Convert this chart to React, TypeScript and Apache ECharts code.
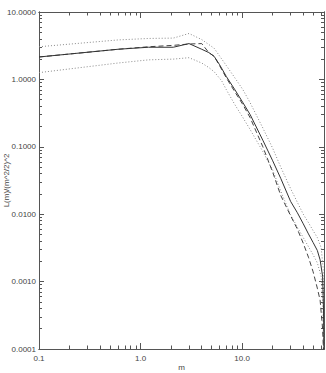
import React, { useEffect, useRef } from "react";
import * as echarts from "echarts";

// m values and curves
const solidM = [0.1, 0.6, 1.2, 2.1, 3.0, 4.0, 4.7, 5.3, 6.0, 7.0, 8.5, 10.2, 12.0, 16.0, 20.0, 24.0, 30.0, 35.0, 40.0, 45.0, 50.0, 55.0, 58.6, 62.0, 63.3, 64.0];
const solidV = [2.15, 2.8, 3.0, 3.0, 3.4, 2.8, 2.5, 2.2, 1.65, 1.1, 0.7, 0.45, 0.3, 0.125, 0.062, 0.034, 0.0155, 0.0105, 0.0072, 0.0051, 0.0038, 0.0029, 0.0021, 0.0012, 0.0004, 0.00008];

const dashedM = [0.1, 0.6, 1.2, 2.1, 3.0, 4.0, 4.7, 5.3, 6.0, 7.0, 8.5, 10.2, 12.0, 16.0, 20.0, 24.0, 30.0, 35.0, 40.0, 45.0, 50.0, 55.0, 58.6, 62.0, 63.5];
const dashedV = [2.15, 2.8, 3.05, 3.2, 3.35, 3.4, 2.5, 2.2, 1.6, 1.05, 0.65, 0.42, 0.27, 0.1, 0.042, 0.019, 0.0095, 0.006, 0.0037, 0.0023, 0.0014, 0.0008, 0.00053, 0.0002, 0.00008];

const upperM = [0.1, 0.6, 1.2, 2.1, 3.0, 4.0, 5.3, 7.0, 8.5, 10.2, 12.0, 16.0, 20.0, 24.0, 30.0, 35.0, 40.0, 45.0, 50.0, 55.0, 60.0, 63.0, 64.0];
const upperV = [3.05, 3.85, 4.05, 4.1, 4.8, 3.9, 2.9, 1.6, 1.05, 0.7, 0.45, 0.19, 0.095, 0.05, 0.024, 0.015, 0.01, 0.0075, 0.0057, 0.0045, 0.0032, 0.0015, 0.00008];

const lowerM = [0.1, 0.6, 1.2, 2.1, 3.0, 4.0, 4.7, 5.3, 6.3, 7.0, 8.5, 10.2, 12.0, 16.0, 20.0, 24.0, 30.0, 35.0, 40.0, 45.0, 50.0, 55.0, 60.0, 62.5, 63.5];
const lowerV = [1.26, 1.75, 1.95, 2.0, 2.1, 1.75, 1.5, 1.3, 0.95, 0.7, 0.42, 0.27, 0.18, 0.085, 0.045, 0.022, 0.0098, 0.0064, 0.0045, 0.0033, 0.0025, 0.0019, 0.0012, 0.0004, 0.00008];

const xMajor = [0.1, 1, 10];
const xMinor = [0.2, 0.3, 0.4, 0.5, 0.6, 0.7, 0.8, 0.9, 2, 3, 4, 5, 6, 7, 8, 9, 20, 30, 40, 50, 60];
const yMajor = [0.0001, 0.001, 0.01, 0.1, 1, 10];
const yMinor = [0.0002, 0.0003, 0.0004, 0.0005, 0.0006, 0.0007, 0.0008, 0.0009, 0.002, 0.003, 0.004, 0.005, 0.006, 0.007, 0.008, 0.009, 0.02, 0.03, 0.04, 0.05, 0.06, 0.07, 0.08, 0.09, 0.2, 0.3, 0.4, 0.5, 0.6, 0.7, 0.8, 0.9, 2, 3, 4, 5, 6, 7, 8, 9];

const X_MIN = 0.1;
const X_MAX = 64;
const Y_MIN = 0.0001;
const Y_MAX = 10;

const AXIS_COLOR = "#555";
const TEXT_COLOR = "#444";
const FONT = "Liberation Sans";

function pairs(xs: number[], ys: number[]) {
  return xs.map((x, i) => [x, ys[i]]);
}

function xAx(grid: number, pos: string, vals: number[], len: number, labels: boolean) {
  return {
    type: "log",
    logBase: 10,
    gridIndex: grid,
    position: pos,
    min: X_MIN,
    max: X_MAX,
    name: labels ? "m" : "",
    nameLocation: "middle",
    nameGap: 14,
    nameMoveOverlap: false,
    nameTextStyle: { color: TEXT_COLOR, fontFamily: FONT, fontSize: 8 },
    axisLine: { show: true, lineStyle: { color: AXIS_COLOR, width: 1 } },
    axisTick: { show: true, inside: true, length: len, customValues: vals, lineStyle: { color: AXIS_COLOR } },
    axisLabel: {
      show: labels,
      customValues: xMajor,
      margin: 5,
      color: TEXT_COLOR,
      fontFamily: FONT,
      fontSize: 8,
      formatter: (v: number) => v.toFixed(1),
    },
    splitLine: { show: false },
    minorTick: { show: false },
  };
}

function yAx(grid: number, pos: string, vals: number[], len: number, labels: boolean) {
  return {
    type: "log",
    logBase: 10,
    gridIndex: grid,
    position: pos,
    min: Y_MIN,
    max: Y_MAX,
    name: labels ? "L(m)/(m^2/2)^2" : "",
    nameLocation: "middle",
    nameGap: 29,
    nameMoveOverlap: false,
    nameTextStyle: { color: TEXT_COLOR, fontFamily: FONT, fontSize: 8 },
    axisLine: { show: true, lineStyle: { color: AXIS_COLOR, width: 1 } },
    axisTick: { show: true, inside: true, length: len, customValues: vals, lineStyle: { color: AXIS_COLOR } },
    axisLabel: {
      show: labels,
      customValues: yMajor,
      margin: 3,
      color: TEXT_COLOR,
      fontFamily: FONT,
      fontSize: 8,
      formatter: (v: number) => v.toFixed(4),
    },
    splitLine: { show: false },
    minorTick: { show: false },
  };
}

export default function App() {
  const ref = useRef<HTMLDivElement>(null);
  useEffect(() => {
    if (!ref.current) return;
    const chart = echarts.init(ref.current, null, { renderer: "svg" });
    const gridRect = { left: 39, top: 12, right: 2, bottom: 24, containLabel: false, outerBoundsMode: "none" };
    chart.setOption({
      animation: false,
      backgroundColor: "#fff",
      grid: [gridRect, gridRect],
      xAxis: [
        xAx(0, "bottom", xMajor, 6, true),
        xAx(0, "top", xMajor, 6, false),
        xAx(1, "bottom", xMinor, 3.5, false),
        xAx(1, "top", xMinor, 3.5, false),
      ],
      yAxis: [
        yAx(0, "left", yMajor, 5, true),
        yAx(0, "right", yMajor, 5, false),
        yAx(1, "left", yMinor, 3, false),
        yAx(1, "right", yMinor, 3, false),
      ],
      series: [
        {
          type: "line",
          xAxisIndex: 0,
          yAxisIndex: 0,
          data: pairs(upperM, upperV),
          symbol: "none",
          lineStyle: { color: "#888", width: 1, type: [1, 2] },
        },
        {
          type: "line",
          xAxisIndex: 0,
          yAxisIndex: 0,
          data: pairs(lowerM, lowerV),
          symbol: "none",
          lineStyle: { color: "#888", width: 1, type: [1, 2] },
        },
        {
          type: "line",
          xAxisIndex: 0,
          yAxisIndex: 0,
          data: pairs(dashedM, dashedV),
          symbol: "none",
          lineStyle: { color: "#444", width: 1, type: [5, 3] },
        },
        {
          type: "line",
          xAxisIndex: 0,
          yAxisIndex: 0,
          data: pairs(solidM, solidV),
          symbol: "none",
          lineStyle: { color: "#333", width: 1 },
        },
      ],
    });
    return () => chart.dispose();
  }, []);
  return <div ref={ref} style={{ position: "absolute", left: 0, top: 0, width: 326, height: 373 }} />;
}
